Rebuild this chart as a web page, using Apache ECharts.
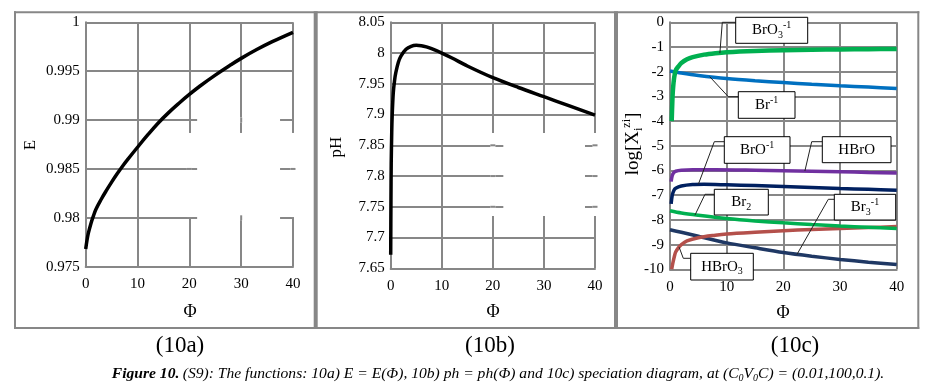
<!DOCTYPE html>
<html><head><meta charset="utf-8">
<script src="https://cdn.jsdelivr.net/npm/echarts@6/dist/echarts.min.js"></script>
<style>html,body{margin:0;padding:0;background:#fff}#c{width:925px;height:388px}</style>
</head><body><div id="c"></div>
<script>
// ---------- data ----------
const phiTicks = [0, 10, 20, 30, 40];
const eTicks = [0.975, 0.98, 0.985, 0.99, 0.995, 1];
const phTicks = [7.65, 7.7, 7.75, 7.8, 7.85, 7.9, 7.95, 8, 8.05];
// Panel 10a: E = E(Φ)
const phiA = [0, 0.25, 0.5, 1, 1.5, 2, 3, 4, 5, 6, 7, 8, 10, 12, 14, 16, 18, 20, 22, 25, 28, 30, 33, 36, 40];
const valA = [0.9768, 0.9777, 0.9784, 0.9794, 0.9802, 0.9809, 0.9819, 0.9828, 0.98365, 0.98445, 0.9852, 0.9859, 0.98722, 0.9885, 0.9897, 0.99076, 0.99172, 0.99262, 0.99346, 0.9946, 0.99565, 0.99631, 0.99721, 0.99802, 0.99898];
// Panel 10b: pH = pH(Φ)
const phiB = [0, 0.05, 0.1, 0.2, 0.3, 0.5, 0.75, 1, 1.5, 2, 3, 4, 5, 6, 7, 8, 10, 12, 15, 20, 25, 30, 35, 40];
const valB = [7.672, 7.76, 7.82, 7.87, 7.90, 7.935, 7.955, 7.968, 7.985, 7.995, 8.006, 8.011, 8.0125, 8.012, 8.010, 8.007, 8.0, 7.992, 7.979, 7.960, 7.944, 7.929, 7.914, 7.899];
// Panel 10c: speciation diagram log[Xi^zi]
const phiBrO3 = [0.3, 0.4, 0.5, 0.7, 1, 1.5, 2, 3, 4, 6, 8, 10, 15, 20, 25, 30, 35, 40];
const valBrO3 = [-4.0, -3.3, -2.8, -2.3, -1.95, -1.78, -1.65, -1.5, -1.41, -1.31, -1.25, -1.21, -1.16, -1.13, -1.11, -1.10, -1.09, -1.08];
const phiBr = [0, 2, 5, 10, 15, 20, 25, 30, 35, 40];
const valBr = [-1.97, -2.05, -2.15, -2.28, -2.37, -2.44, -2.51, -2.57, -2.62, -2.68];
const phiHBrO = [0.2, 0.4, 0.7, 1, 2, 4, 8, 15, 20, 25, 30, 35, 40];
const valHBrO = [-6.45, -6.2, -6.08, -6.03, -5.99, -5.97, -5.97, -5.99, -6.01, -6.03, -6.05, -6.08, -6.1];
const phiBrO = [0.2, 0.4, 0.7, 1, 2, 4, 6, 10, 15, 20, 25, 30, 35, 40];
const valBrO = [-7.35, -7.0, -6.8, -6.72, -6.63, -6.57, -6.56, -6.58, -6.61, -6.65, -6.69, -6.73, -6.76, -6.8];
const phiBr2 = [0, 2, 5, 10, 15, 20, 25, 30, 35, 40];
const valBr2 = [-7.63, -7.72, -7.81, -7.94, -8.04, -8.12, -8.19, -8.25, -8.3, -8.35];
const phiHBrO3 = [0.3, 0.5, 0.8, 1, 1.5, 2, 3, 5, 8, 10, 15, 20, 25, 30, 35, 40];
const valHBrO3 = [-10.0, -9.75, -9.45, -9.3, -9.12, -9.0, -8.85, -8.72, -8.62, -8.57, -8.5, -8.44, -8.39, -8.35, -8.31, -8.27];
const phiBr3 = [0, 2, 5, 10, 15, 20, 25, 30, 35, 40];
const valBr3 = [-8.4, -8.5, -8.66, -8.93, -9.13, -9.32, -9.47, -9.6, -9.71, -9.81];

const zip = (xs, ys) => xs.map((x, i) => [x, ys[i]]);

// ---------- chart ----------
const chart = echarts.init(document.getElementById('c'), null, {renderer: 'canvas'});
const GRID = '#878787';
const FONT = '"Liberation Serif", "Times New Roman", serif';
const lbl = {color: '#000', fontFamily: FONT, fontSize: 15};

function xAxis(gi) {
  return {type: 'value', gridIndex: gi, min: 0, max: 40, interval: 10,
    axisLine: {show: true, onZero: false, lineStyle: {color: GRID, width: 2}},
    axisTick: {show: false}, axisLabel: Object.assign({margin: 10}, lbl),
    splitLine: {show: true, lineStyle: {color: GRID, width: 2}}};
}
function yAxis(gi, min, max, interval) {
  return {type: 'value', gridIndex: gi, min, max, interval,
    axisLine: {show: true, onZero: false, lineStyle: {color: GRID, width: 2}},
    axisTick: {show: false}, axisLabel: Object.assign({margin: 6}, lbl),
    splitLine: {show: true, lineStyle: {color: GRID, width: 2}}};
}
function line(name, gi, data, color, width, smooth) {
  return {name, type: 'line', xAxisIndex: gi, yAxisIndex: gi, data, showSymbol: false,
    smooth: smooth === undefined ? 0.3 : smooth,
    lineStyle: {color, width}, itemStyle: {color}, z: 3, silent: true};
}

chart.setOption({
  animation: false,
  backgroundColor: '#fff',
  grid: [
    {left: 85.7, top: 22.3, width: 207.3, height: 244.4},
    {left: 390.7, top: 22.3, width: 204.3, height: 246},
    {left: 670, top: 22.3, width: 226.7, height: 247}
  ],
  xAxis: [xAxis(0), xAxis(1), xAxis(2)],
  yAxis: [yAxis(0, 0.975, 1, 0.005), yAxis(1, 7.65, 8.05, 0.05), yAxis(2, -10, 0, 1)],
  series: [
    line('E', 0, zip(phiA, valA), '#000', 3.5, 0.4),
    line('pH', 1, zip(phiB, valB), '#000', 3.5, 0.3),
    line('Br3-1', 2, zip(phiBr3, valBr3), '#1f3864', 3.5),
    line('HBrO3', 2, zip(phiHBrO3, valHBrO3), '#b4504b', 3.5),
    line('Br2', 2, zip(phiBr2, valBr2), '#00b050', 3.5),
    line('BrO-1', 2, zip(phiBrO, valBrO), '#002060', 3.5),
    line('HBrO', 2, zip(phiHBrO, valHBrO), '#7030a0', 3.5),
    line('Br-1', 2, zip(phiBr, valBr), '#0070c0', 3.5),
    line('BrO3-1', 2, zip(phiBrO3, valBrO3), '#00b050', 4.5)
  ]
});

// ---------- decorations ----------
const conv = (gi, p) => chart.convertToPixel({gridIndex: gi}, p);
const els = [];
function hline(x0, x1, y, w) { els.push({type: 'line', shape: {x1: x0, y1: y, x2: x1, y2: y}, style: {stroke: GRID, lineWidth: w}, z: 5}); }
function vline(x, y0, y1, w) { els.push({type: 'line', shape: {x1: x, y1: y0, x2: x, y2: y1}, style: {stroke: GRID, lineWidth: w}, z: 5}); }
// panel frames
hline(14, 919.3, 12.3, 2);
hline(14, 919.3, 328, 2);
vline(15, 11.3, 329, 2);
vline(315.7, 11.3, 329, 4);
vline(616, 11.3, 329, 4);
vline(918.3, 11.3, 329, 2);

// gaps in gridlines (white patches in the reference)
const gaps = [
  {gi: 0, yt: eTicks, vx: [20, 30, 40], vy0: 0.98868, vy1: 0.98008, hy: [0.99, 0.985, 0.98], hx0: 21.5, hx1: 37.5},
  {gi: 1, yt: phTicks, vx: [20, 30, 40], vy0: 7.870, vy1: 7.735, hy: [7.85, 7.8, 7.75], hx0: 22.05, hx1: 38.04}
];
const near = (a, b) => Math.abs(a - b) < 1e-9;
gaps.forEach(g => {
  const hGapped = (yv, xv) => g.hy.some(h => near(h, yv)) && xv > g.hx0 && xv < g.hx1;
  const vGapped = (xv, yv) => g.vx.includes(xv) && yv < g.vy0 && yv > g.vy1;
  g.vx.forEach(xv => {
    const a = conv(g.gi, [xv, g.vy0]), b = conv(g.gi, [xv, g.vy1]);
    els.push({type: 'rect', shape: {x: a[0] - 2.5, y: a[1], width: 5, height: b[1] - a[1]}, style: {fill: '#fff'}, z: 1});
    g.yt.forEach(yv => {
      if (yv < g.vy0 && yv > g.vy1 && !hGapped(yv, xv)) {
        const p = conv(g.gi, [xv, yv]);
        els.push({type: 'rect', shape: {x: p[0] - 2.5, y: p[1] - 1, width: 5, height: 2}, style: {fill: GRID}, z: 1.5});
      }
    });
  });
  g.hy.forEach(yv => {
    const a = conv(g.gi, [g.hx0, yv]), b = conv(g.gi, [g.hx1, yv]);
    els.push({type: 'rect', shape: {x: a[0], y: a[1] - 2.5, width: b[0] - a[0], height: 5}, style: {fill: '#fff'}, z: 1});
    phiTicks.forEach(xv => {
      if (xv > g.hx0 && xv < g.hx1 && !vGapped(xv, yv)) {
        const p = conv(g.gi, [xv, yv]);
        els.push({type: 'rect', shape: {x: p[0] - 1, y: p[1] - 2.5, width: 2, height: 5}, style: {fill: GRID}, z: 1.5});
      }
    });
  });
});

// axis names
function txt(x, y, text, size, rot, rich) {
  els.push({type: 'text', x, y, rotation: rot || 0, z: 20,
    style: {text, rich, fontFamily: FONT, fontSize: size, fill: '#000', align: 'center', verticalAlign: 'middle'}});
}
txt(31, 145, 'E', 17, Math.PI / 2);
txt(337, 147, 'pH', 17, Math.PI / 2);
txt(633, 144, '{n|log[X}{s|i}{p|zi}{n|]}', 19, Math.PI / 2, {
  n: {fontFamily: FONT, fontSize: 19, lineHeight: 24, verticalAlign: 'middle'},
  s: {fontFamily: FONT, fontSize: 12, lineHeight: 24, verticalAlign: 'bottom'},
  p: {fontFamily: FONT, fontSize: 12, lineHeight: 24, verticalAlign: 'top'}
});
txt(190, 312, 'Φ', 18);
txt(493, 312, 'Φ', 18);
txt(783, 313, 'Φ', 18);

// sub-figure labels
['(10a)', '(10b)', '(10c)'].forEach((t, i) => txt([180, 490, 795][i], 346, t, 23));
// caption
els.push({type: 'text', x: 498, y: 374, z: 20, style: {
  text: '{b|Figure 10.} {i|(S9): The functions: 10a) E = E(Φ), 10b) ph = ph(Φ) and 10c) speciation diagram, at (C}{s|0}{i|V}{s|0}{i|C) = (0.01,100,0.1).}',
  align: 'center', verticalAlign: 'middle',
  rich: {
    b: {fontFamily: FONT, fontSize: 15.6, fontWeight: 'bold', fontStyle: 'italic', lineHeight: 19, verticalAlign: 'middle'},
    i: {fontFamily: FONT, fontSize: 15.6, fontStyle: 'italic', lineHeight: 19, verticalAlign: 'middle'},
    s: {fontFamily: FONT, fontSize: 10, fontStyle: 'italic', lineHeight: 19, verticalAlign: 'bottom'}
  }}});

// annotation boxes in 10c
const R = {
  n: {fontFamily: FONT, fontSize: 15, lineHeight: 20, verticalAlign: 'middle'},
  b: {fontFamily: FONT, fontSize: 10, lineHeight: 20, verticalAlign: 'bottom'},
  t: {fontFamily: FONT, fontSize: 10, lineHeight: 20, verticalAlign: 'top'}
};
const notes = [
  {t: '{n|BrO}{b|3}{t|-1}', box: [735.7, 17.3, 807.7, 43.3], c: [722.3, 22.3], a: [8.8, -1.25]},
  {t: '{n|Br}{t|-1}', box: [738.3, 91.7, 795, 118.3], c: [728.3, 96.7], a: [7.0, -2.2]},
  {t: '{n|BrO}{t|-1}', box: [724.3, 136.7, 790, 163.3], c: [714.3, 141.7], a: [5.0, -6.56]},
  {t: '{n|HBrO}', box: [822.3, 136.7, 891, 162.7], c: [811.7, 141.7], a: [23.8, -6.02]},
  {t: '{n|Br}{b|2}', box: [714.3, 189.3, 768.3, 215], c: [705, 194.3], a: [4.4, -7.81]},
  {t: '{n|Br}{b|3}{t|-1}', box: [834.3, 194.3, 895.7, 220], c: [828.3, 199.3], a: [22.4, -9.4]},
  {t: '{n|HBrO}{b|3}', box: [690.7, 253.3, 753.3, 280], c: [683.3, 258.3], a: [1.6, -9.1]}
];
notes.forEach(n => {
  const [x0, y0, x1, y1] = n.box;
  const ap = conv(2, n.a);
  els.push({type: 'polyline', shape: {points: [[x0, n.c[1]], n.c, ap]}, style: {stroke: '#222', lineWidth: 1, fill: null}, z: 9});
  els.push({type: 'rect', shape: {x: x0, y: y0, width: x1 - x0, height: y1 - y0}, style: {fill: '#fff', stroke: '#000', lineWidth: 1}, z: 10});
  els.push({type: 'text', x: (x0 + x1) / 2, y: (y0 + y1) / 2, z: 11,
    style: {text: n.t, rich: R, align: 'center', verticalAlign: 'middle', fill: '#000'}});
});

chart.setOption({graphic: {elements: els}});
</script>
</body></html>
